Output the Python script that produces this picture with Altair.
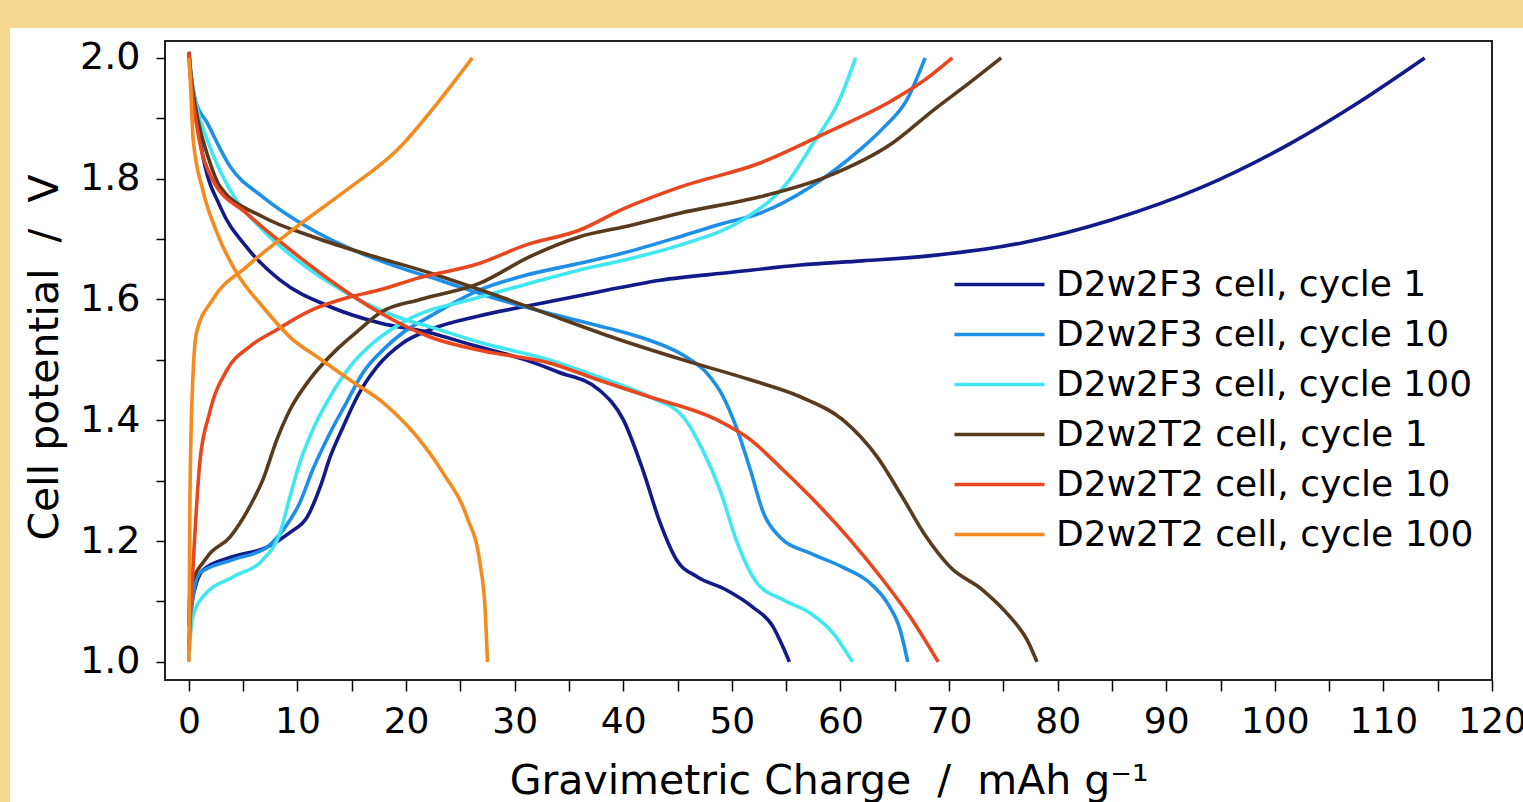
import altair as alt
import pandas as pd

# ---------------- data ----------------
series_names = [
    "D2w2F3 cell, cycle 1",
    "D2w2F3 cell, cycle 10",
    "D2w2F3 cell, cycle 100",
    "D2w2T2 cell, cycle 1",
    "D2w2T2 cell, cycle 10",
    "D2w2T2 cell, cycle 100",
]
series_colors = ["#121A8A", "#1E8FE6", "#40E6F0", "#5A3A1C", "#E8461E", "#F58A1F"]

# D2w2F3 cycle 1
f3c1_charge_q = [0, 0.3, 1.3, 4.0, 7.2, 9.3, 10.9, 12.1, 13.0, 14.2, 15.5, 17.3, 19.7, 22.2, 26.8, 31.4, 37.8, 43.4, 50, 56.3, 62, 68.6, 76.8, 85, 93.3, 101.5, 107.6, 113.8]
f3c1_charge_v = [1.02, 1.10, 1.152, 1.174, 1.19, 1.214, 1.24, 1.29, 1.339, 1.389, 1.439, 1.488, 1.528, 1.55, 1.573, 1.59, 1.613, 1.632, 1.645, 1.657, 1.664, 1.673, 1.694, 1.732, 1.786, 1.859, 1.925, 2.0]
f3c1_dis_q = [0, 0.1, 0.55, 1.3, 2.9, 5.3, 8.4, 13, 17.6, 22.2, 26, 31, 34, 37.8, 40, 41.8, 43.4, 44.9, 46.8, 49.5, 51.9, 53.8, 54.7, 55.3]
f3c1_dis_v = [2.01, 1.98, 1.919, 1.836, 1.753, 1.687, 1.632, 1.588, 1.561, 1.545, 1.525, 1.50, 1.48, 1.45, 1.401, 1.318, 1.23, 1.169, 1.141, 1.119, 1.091, 1.058, 1.025, 1.0]

# D2w2F3 cycle 10
f3c10_charge_q = [0, 0.3, 1.0, 4.0, 7.2, 8.7, 10.2, 11.4, 13, 14.5, 16, 17.9, 19.7, 22, 26.8, 31, 36, 40, 45.2, 49, 52.6, 57.2, 61.8, 64, 66.1, 67.8]
f3c10_charge_v = [1.03, 1.10, 1.147, 1.169, 1.19, 1.219, 1.263, 1.318, 1.379, 1.429, 1.478, 1.517, 1.545, 1.57, 1.616, 1.64, 1.66, 1.677, 1.704, 1.725, 1.743, 1.786, 1.848, 1.885, 1.93, 2.0]
f3c10_dis_q = [0, 0.2, 0.6, 1.7, 3.8, 6.8, 10.9, 14.5, 19.2, 23.1, 27.1, 33, 38.5, 42, 45.5, 47.7, 49.2, 50.5, 51.7, 52.9, 54.4, 57.2, 60.2, 62.7, 64.3, 65.5, 66.2]
f3c10_dis_v = [2.01, 1.97, 1.93, 1.892, 1.82, 1.77, 1.72, 1.687, 1.654, 1.632, 1.608, 1.578, 1.553, 1.535, 1.508, 1.478, 1.439, 1.384, 1.318, 1.247, 1.207, 1.18, 1.157, 1.131, 1.098, 1.053, 1.0]

# D2w2F3 cycle 100
f3c100_charge_q = [0, 0.3, 1.3, 4.1, 6.8, 8.4, 9.3, 10.2, 11.4, 13, 14.8, 17.3, 20, 26.8, 31, 36, 40, 45.2, 51, 55.1, 57.5, 59.9, 61.4]
f3c100_charge_v = [1.005, 1.07, 1.108, 1.141, 1.169, 1.214, 1.273, 1.329, 1.384, 1.439, 1.488, 1.533, 1.565, 1.604, 1.625, 1.649, 1.665, 1.69, 1.732, 1.793, 1.859, 1.93, 2.0]
f3c100_dis_q = [0, 0.2, 0.7, 1.7, 3.8, 6.8, 9.9, 14.5, 19.2, 22.5, 27, 33.2, 38, 42.4, 45.5, 47.3, 48.9, 50.5, 52.3, 54.7, 57.2, 59.3, 61.1]
f3c100_dis_v = [2.01, 1.97, 1.92, 1.864, 1.781, 1.715, 1.666, 1.611, 1.571, 1.553, 1.528, 1.50, 1.47, 1.439, 1.406, 1.351, 1.285, 1.197, 1.131, 1.103, 1.081, 1.048, 1.0]

# D2w2T2 cycle 1
t2c1_charge_q = [0, 0.1, 1.7, 3.8, 5.6, 6.8, 8.1, 9.3, 11.1, 13.6, 15.7, 17.6, 21.3, 26.8, 31.4, 36, 40, 45.2, 52.6, 58.7, 64.8, 68.6, 71.9, 74.8]
t2c1_charge_v = [1.06, 1.119, 1.174, 1.207, 1.257, 1.301, 1.368, 1.417, 1.467, 1.517, 1.55, 1.578, 1.60, 1.627, 1.671, 1.704, 1.72, 1.743, 1.77, 1.803, 1.859, 1.914, 1.959, 2.0]
t2c1_dis_q = [0, 0.2, 0.8, 1.7, 2.9, 6.8, 11.4, 16, 22.2, 28.6, 33.2, 39.4, 45.5, 51.7, 56.3, 60.2, 63.4, 65.7, 67.9, 70.1, 73.1, 75.6, 77.2, 78.1]
t2c1_dis_v = [2.01, 1.97, 1.90, 1.84, 1.786, 1.737, 1.704, 1.677, 1.644, 1.605, 1.575, 1.535, 1.50, 1.467, 1.439, 1.401, 1.339, 1.273, 1.207, 1.157, 1.119, 1.075, 1.036, 1.0]

# D2w2T2 cycle 10
t2c10_charge_q = [0, 0.2, 0.4, 1.0, 1.9, 3.5, 5.6, 8.1, 11, 14.8, 17.6, 21, 26.8, 31, 36, 40, 45.2, 52.6, 58.7, 64.8, 67.8, 70.3]
t2c10_charge_v = [1.02, 1.10, 1.164, 1.329, 1.412, 1.483, 1.522, 1.55, 1.58, 1.604, 1.616, 1.635, 1.66, 1.69, 1.715, 1.75, 1.786, 1.826, 1.876, 1.93, 1.964, 2.0]
t2c10_dis_q = [0, 0.2, 0.8, 2.2, 5.3, 9.0, 13, 17.6, 22.2, 27, 33.2, 38, 42.4, 48.6, 51.7, 54.7, 57.8, 60.9, 63.9, 66.4, 69]
t2c10_dis_v = [2.01, 1.96, 1.88, 1.798, 1.743, 1.687, 1.632, 1.578, 1.538, 1.515, 1.495, 1.465, 1.439, 1.401, 1.368, 1.318, 1.263, 1.202, 1.136, 1.075, 1.0]

# D2w2T2 cycle 100
t2c100_charge_q = [0, 0.05, 0.1, 0.3, 0.7, 2.2, 5.3, 9.9, 14.5, 19.2, 23.1, 26.1]
t2c100_charge_v = [1.0, 1.15, 1.273, 1.439, 1.545, 1.60, 1.654, 1.72, 1.781, 1.848, 1.93, 2.0]
t2c100_dis_q = [0, 0.1, 0.4, 1.3, 2.6, 4.4, 6.8, 9.6, 11.8, 14.8, 17.9, 21, 23.4, 25.6, 26.8, 27.3, 27.5]
t2c100_dis_v = [2.0, 1.975, 1.864, 1.78, 1.71, 1.644, 1.588, 1.533, 1.505, 1.467, 1.429, 1.373, 1.313, 1.24, 1.164, 1.081, 1.0]

x_ticks = list(range(0, 121, 5))
y_ticks = [round(1.0 + 0.1 * i, 1) for i in range(11)]

branches = [
    (series_names[0], "charge", f3c1_charge_q, f3c1_charge_v),
    (series_names[0], "discharge", f3c1_dis_q, f3c1_dis_v),
    (series_names[1], "charge", f3c10_charge_q, f3c10_charge_v),
    (series_names[1], "discharge", f3c10_dis_q, f3c10_dis_v),
    (series_names[2], "charge", f3c100_charge_q, f3c100_charge_v),
    (series_names[2], "discharge", f3c100_dis_q, f3c100_dis_v),
    (series_names[3], "charge", t2c1_charge_q, t2c1_charge_v),
    (series_names[3], "discharge", t2c1_dis_q, t2c1_dis_v),
    (series_names[4], "charge", t2c10_charge_q, t2c10_charge_v),
    (series_names[4], "discharge", t2c10_dis_q, t2c10_dis_v),
    (series_names[5], "charge", t2c100_charge_q, t2c100_charge_v),
    (series_names[5], "discharge", t2c100_dis_q, t2c100_dis_v),
]

rows = []
for name, br, qs, vs in branches:
    for i, (q, v) in enumerate(zip(qs, vs)):
        rows.append({"series": name, "branch": name + "|" + br, "Q": q, "V": v, "i": i})
df = pd.DataFrame(rows)

# ---------------- layout ----------------
W, H = 1327, 639
PAD = {"left": 165, "top": 41, "right": 31, "bottom": 122}
FONT = "DejaVu Sans"
NB = "\u00a0"

one = pd.DataFrame({"a": [0]})

panel = alt.Chart(one).mark_rect(fill="white").encode(
    x=alt.value(-155), x2=alt.value(W + PAD["right"]),
    y=alt.value(-13), y2=alt.value(H + PAD["bottom"]),
)

frame = alt.Chart(one).mark_rect(fill="transparent", stroke="#222222", strokeWidth=2).encode(
    x=alt.value(0), x2=alt.value(W), y=alt.value(0), y2=alt.value(H),
)

lines = alt.Chart(df).mark_line(strokeWidth=3.6, interpolate="monotone", clip=True).encode(
    x=alt.X(
        "Q:Q",
        scale=alt.Scale(domain=[-2.2, 120], nice=False, zero=False),
        axis=alt.Axis(
            values=x_ticks,
            labelExpr="datum.value % 10 === 0 ? datum.label : ''",
            title=f"Gravimetric Charge{NB} /{NB} mAh g⁻¹",
            titleX=W / 2, titleY=101, titleAlign="center", titleBaseline="middle",
            titleFontSize=41, titleFontWeight="normal", titleFont=FONT, titleColor="black",
            labelFontSize=36, labelFont=FONT, labelColor="black", labelPadding=13,
            labelFlush=False, labelOverlap=False,
            tickSize=11, tickWidth=1.5, tickColor="black",
            domain=False, grid=False, zindex=1,
        ),
    ),
    y=alt.Y(
        "V:Q",
        scale=alt.Scale(domain=[0.970, 2.028], nice=False, zero=False),
        axis=alt.Axis(
            values=y_ticks,
            labelExpr="round(datum.value * 10) % 2 === 0 ? format(datum.value, '.1f') : ''",
            title=f"Cell potential{NB} /{NB} V",
            titleX=-120, titleY=316, titleAngle=270, titleAlign="center", titleBaseline="middle",
            titleFontSize=41, titleFontWeight="normal", titleFont=FONT, titleColor="black",
            labelFontSize=38, labelFont=FONT, labelColor="black", labelPadding=16,
            labelOverlap=False,
            tickSize=9, tickWidth=1.5, tickColor="black",
            domain=False, grid=False, zindex=1,
        ),
    ),
    color=alt.Color(
        "series:N",
        scale=alt.Scale(domain=series_names, range=series_colors),
        legend=alt.Legend(
            title=None, orient="none", legendX=810, legendY=219,
            symbolType="M-2,0H2", symbolSize=2025, symbolStrokeWidth=3.6,
            labelFontSize=36, labelFont=FONT, labelColor="black",
            labelOffset=32, rowPadding=7, padding=0, labelLimit=700,
            zindex=2,
        ),
    ),
    detail="branch:N",
    order="i:Q",
)

chart = alt.layer(panel, frame, lines).properties(
    width=W, height=H,
    autosize=alt.AutoSizeParams(type="none"),
    padding=PAD,
    background="#F6D88F",
).configure_view(stroke=None).configure(font=FONT)

chart.save("out.html", embed_options={"renderer": "svg", "actions": False})
